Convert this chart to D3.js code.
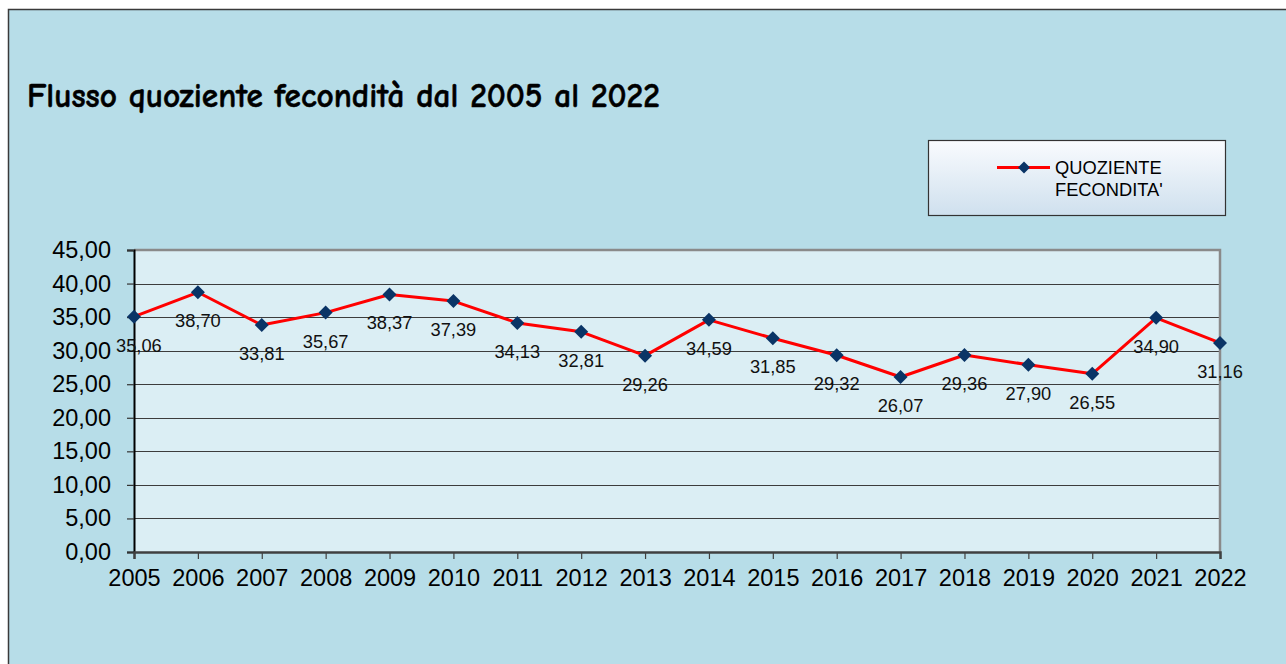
<!DOCTYPE html>
<html><head><meta charset="utf-8">
<script src="https://cdn.jsdelivr.net/npm/d3@7"></script>
<style>
html,body{margin:0;padding:0;background:#fff;}
svg{display:block;}
</style>
</head><body>
<svg id="chart" width="1286" height="664"></svg>
<script>
const years = ["2005","2006","2007","2008","2009","2010","2011","2012","2013","2014","2015","2016","2017","2018","2019","2020","2021","2022"];
const values = [35.06,38.70,33.81,35.67,38.37,37.39,34.13,32.81,29.26,34.59,31.85,29.32,26.07,29.36,27.90,26.55,34.90,31.16];
const yTicks = [0,5,10,15,20,25,30,35,40,45];
const seriesName = ["QUOZIENTE","FECONDITA'"];
const titleText = "Flusso quoziente fecondità dal 2005 al 2022";

const svg = d3.select("#chart");
const fmt = v => v.toFixed(2).replace(".", ",");
const W = 1286, H = 664;

// outer chart area
svg.append("rect").attr("x",8.5).attr("y",9.5).attr("width",W).attr("height",H)
  .attr("fill","#b7dde8").attr("stroke","#3a3a3a").attr("stroke-width",1.5);

const plot = {l:134, r:1220, t:250, b:552};
const x = d3.scalePoint().domain(years).range([plot.l, plot.r]);
const y = d3.scaleLinear().domain([0,45]).range([plot.b, plot.t]);

// plot bg
svg.append("rect").attr("x",plot.l).attr("y",plot.t).attr("width",plot.r-plot.l).attr("height",plot.b-plot.t)
  .attr("fill","#dbeef4");

// gridlines
svg.append("g").selectAll("line").data(yTicks.filter(d=>d>0 && d<45)).join("line")
  .attr("x1",plot.l).attr("x2",plot.r).attr("y1",d=>Math.round(y(d))+0.5).attr("y2",d=>Math.round(y(d))+0.5)
  .attr("stroke","#3c3c3c").attr("stroke-width",1);

// top & right border (gray)
svg.append("path").attr("d",`M${plot.l},${plot.t} H${plot.r} V${plot.b}`)
  .attr("fill","none").attr("stroke","#8a8a8a").attr("stroke-width",2.5);

// y axis
const yAxis = svg.append("g").attr("transform",`translate(${plot.l},0)`)
  .call(d3.axisLeft(y).tickValues(yTicks).tickFormat(fmt).tickSize(7).tickPadding(16));
yAxis.select(".domain").attr("stroke","#000").attr("stroke-width",2);
yAxis.selectAll(".tick line").attr("stroke","#333").attr("stroke-width",1.2);
yAxis.selectAll("text").attr("font-family","Liberation Sans, Arial, sans-serif").attr("font-size",23.5).attr("fill","#000");

// x axis
const xAxis = svg.append("g").attr("transform",`translate(0,${plot.b})`)
  .call(d3.axisBottom(x).tickSize(7).tickPadding(10));
xAxis.select(".domain").attr("stroke","#404040").attr("stroke-width",2.5);
xAxis.selectAll(".tick line").attr("stroke","#404040").attr("stroke-width",1.2);
xAxis.selectAll("text").attr("font-family","Liberation Sans, Arial, sans-serif").attr("font-size",23.5).attr("fill","#000");

// line
const data = years.map((yr,i)=>({yr, v:values[i]}));
svg.append("path").datum(data)
  .attr("d", d3.line().x(d=>x(d.yr)).y(d=>y(d.v)))
  .attr("fill","none").attr("stroke","#ff0000").attr("stroke-width",3).attr("stroke-linejoin","round");

const diamond = s => `M0,${-s} L${s},0 L0,${s} L${-s},0 Z`;
svg.append("g").selectAll("path").data(data).join("path")
  .attr("transform",d=>`translate(${x(d.yr)},${y(d.v)})`)
  .attr("d",diamond(7)).attr("fill","#0a3466");

// data labels (kept from running past the left edge of the plot by more than 18px)
svg.append("g").selectAll("text").data(data).join("text")
  .attr("y",d=>y(d.v)+35)
  .attr("text-anchor","middle")
  .attr("font-family","Liberation Sans, Arial, sans-serif").attr("font-size",18.3).attr("fill","#111")
  .text(d=>fmt(d.v))
  .attr("x",function(d){
    const w = this.getComputedTextLength();
    return Math.max(x(d.yr), plot.l - 18 + w/2);
  });

// title
const title = svg.append("text").attr("x",27).attr("y",107)
  .attr("font-family","'Comic Sans MS','Comic Neue','DejaVu Sans',sans-serif").attr("font-weight","bold")
  .attr("font-size",24).attr("fill","#000").attr("stroke","#000").attr("stroke-width",0.5).text(titleText);
const tw = title.node().getComputedTextLength();
title.attr("font-size", 24*633/tw);

// legend
const defs = svg.append("defs");
const grad = defs.append("linearGradient").attr("id","lg").attr("x1",0).attr("y1",0).attr("x2",0).attr("y2",1);
grad.append("stop").attr("offset","0%").attr("stop-color","#f9fbfe");
grad.append("stop").attr("offset","100%").attr("stop-color","#cfe0ee");
svg.append("rect").attr("x",928.5).attr("y",140.5).attr("width",297).attr("height",75)
  .attr("fill","url(#lg)").attr("stroke","#333").attr("stroke-width",1.2);
svg.append("line").attr("x1",997).attr("x2",1050).attr("y1",167.5).attr("y2",167.5)
  .attr("stroke","#ff0000").attr("stroke-width",3);
svg.append("path").attr("transform","translate(1024,167.5)").attr("d",diamond(6)).attr("fill","#0a3466");
svg.append("g").selectAll("text").data(seriesName).join("text")
  .attr("x",1055).attr("y",(d,i)=>174+i*22)
  .attr("font-family","Liberation Sans, Arial, sans-serif").attr("font-size",18.3).attr("fill","#000")
  .text(d=>d);
</script>
</body></html>
